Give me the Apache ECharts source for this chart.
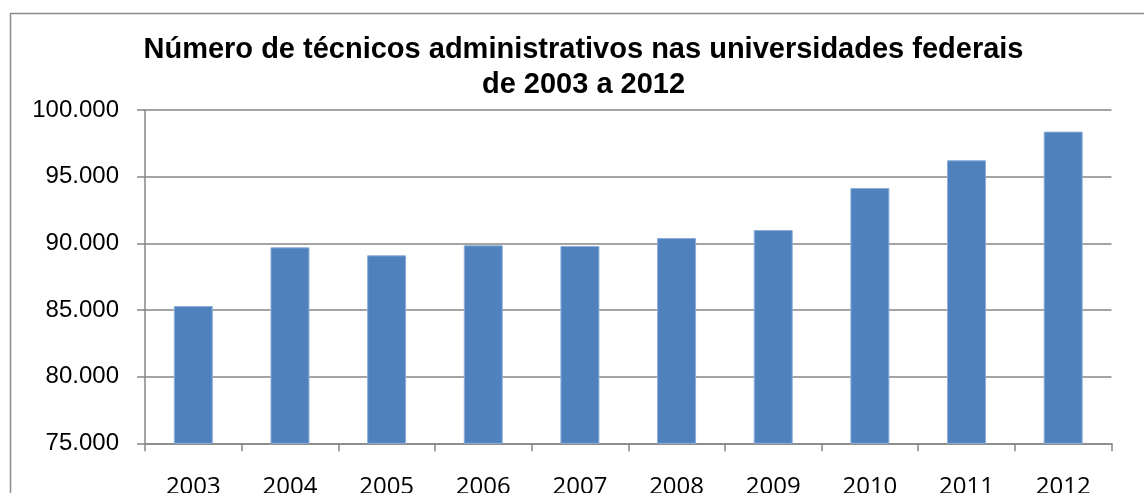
<!DOCTYPE html>
<html>
<head>
<meta charset="utf-8">
<script src="https://cdn.jsdelivr.net/npm/echarts@6/dist/echarts.min.js"></script>
<style>
html,body{margin:0;padding:0;background:#fff;}
#chart{width:1144px;height:493px;}
</style>
</head>
<body>
<div id="chart"></div>
<script>
const titleText = 'Número de técnicos administrativos nas universidades federais\nde 2003 a 2012';
const years = ['2003','2004','2005','2006','2007','2008','2009','2010','2011','2012'];
const tecnicos = [85300, 89700, 89100, 89850, 89800, 90400, 91000, 94150, 96230, 98380];
const yMin = 75000, yMax = 100000, yStep = 5000;

const chart = echarts.init(document.getElementById('chart'), null, {renderer:'canvas'});
const gridColor = '#868686';
chart.setOption({
  animation: false,
  backgroundColor: '#ffffff',
  graphic: [{
    type: 'rect',
    shape: {x: 10.5, y: 13.5, width: 1300, height: 700},
    style: {fill: 'none', stroke: '#8c8c8c', lineWidth: 1.5},
    silent: true, z: -10
  }, {
    type: 'text',
    x: 583.5,
    y: 32.5,
    silent: true,
    style: {
      text: titleText,
      align: 'center',
      verticalAlign: 'top',
      font: 'bold 29px "Liberation Sans", Arial, sans-serif',
      lineHeight: 35,
      fill: '#000'
    }
  }],
  grid: {left: 145, right: 32.5, top: 110, bottom: 49.7, containLabel: false, outerBoundsMode: 'none'},
  xAxis: {
    type: 'category',
    data: years,
    axisLine: {lineStyle: {color: gridColor, width: 1.5}},
    axisTick: {show: true, length: 8, lineStyle: {color: gridColor, width: 1.5}},
    axisLabel: {
      margin: 32,
      fontFamily: 'Open Sans, sans-serif',
      fontSize: 24,
      color: '#000'
    }
  },
  yAxis: {
    type: 'value',
    min: yMin, max: yMax, interval: yStep,
    axisLine: {show: true, lineStyle: {color: gridColor, width: 1.5}},
    axisTick: {show: true, length: 8, lineStyle: {color: gridColor, width: 1.5}},
    splitLine: {show: true, lineStyle: {color: gridColor, width: 1.5}},
    axisLabel: {
      margin: 26,
      fontFamily: 'Liberation Sans, Arial, sans-serif',
      fontSize: 24,
      color: '#000',
      formatter: v => v.toLocaleString('de-DE', {minimumFractionDigits: 0}).replace(/,/g,'.')
    }
  },
  series: [{
    type: 'bar',
    data: tecnicos,
    barWidth: 39,
    itemStyle: {color: '#4f81bd', borderColor: '#8daedb', borderWidth: 1}
  }]
});
</script>
</body>
</html>
